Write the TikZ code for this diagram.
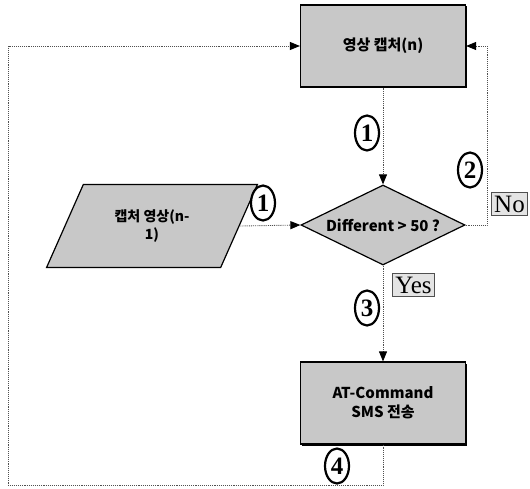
\documentclass[tikz,border=0pt]{standalone}
\usepackage{fontspec}
\setmainfont{Liberation Serif}
\newfontfamily\krfont{Noto Sans CJK KR}
\usepackage{tikz}
\usetikzlibrary{shapes.geometric, arrows.meta, positioning, shadows}
\definecolor{boxgray}{RGB}{200,200,200}
\definecolor{lblgray}{RGB}{228,228,228}
\definecolor{linegray}{RGB}{80,80,80}
\tikzset{
  procbox/.style={rectangle, draw=black, fill=boxgray,
    minimum width=165pt, minimum height=82pt, align=center,
    font=\krfont\bfseries\fontsize{15}{19}\selectfont, line width=1.2pt,
    drop shadow={shadow xshift=1.5pt, shadow yshift=-1.5pt, fill=black, opacity=1}},
  decision/.style={diamond, draw=black, fill=boxgray, aspect=2.05,
    minimum width=164pt, minimum height=80pt, inner sep=0pt,
    font=\krfont\bfseries\fontsize{15}{19}\selectfont, line width=1.2pt},
  iobox/.style={trapezium, trapezium left angle=61, trapezium right angle=119,
    trapezium stretches=true,
    draw=black, fill=boxgray, minimum width=211pt, minimum height=83pt,
    align=center, font=\krfont\bfseries\fontsize{14}{18}\selectfont, line width=1.2pt},
  stepnum/.style={ellipse, draw=black, fill=white, line width=2.2pt,
    minimum width=24pt, minimum height=35pt, inner sep=0pt,
    font=\bfseries\fontsize{25}{25}\selectfont},
  answer/.style={rectangle, draw=linegray, fill=lblgray, line width=0.6pt,
    inner sep=3pt, font=\fontsize{25}{25}\selectfont},
  flow/.style={-{Triangle[length=10pt,width=8pt,color=black]}, densely dotted,
    line width=0.9pt, color=linegray}
}
\begin{document}
\begin{tikzpicture}[x=1pt, y=-1pt]
  \useasboundingbox (0,0) rectangle (530,489);
  % blocks
  \node[procbox] (capture) at (383,46) {영상 캡처(n)};
  \node[decision] (diff) at (383,225) {Different > 50 ?};
  \node[procbox] (send) at (383,403) {AT-Command\\SMS 전송};
  \node[iobox] (input) at (152,226) {캡처 영상(n-\\1)};
  \coordinate (loopbl) at (8,485);
  \coordinate (noline) at (487,225);
  % connectors
  \draw[flow] (capture) -- (diff);
  \draw[flow] (input.east) -- (diff.west);
  \draw[flow] (diff.east) -- (noline) |- (capture.east);
  \draw[flow] (diff) -- (send);
  \draw[flow] (send.south) |- (loopbl) |- (capture.west);
  % answers and step numbers
  \node[answer] (nolabel) at (509.5,204) {No};
  \node[answer] (yeslabel) at (413.5,285) {Yes};
  \node[stepnum] (num1a) at (367,133) {1};
  \node[stepnum] (num1b) at (263,203) {1};
  \node[stepnum] (num2) at (470,170) {2};
  \node[stepnum] (num3) at (367,308) {3};
  \node[stepnum] (num4) at (337,466) {4};
\end{tikzpicture}
\end{document}
